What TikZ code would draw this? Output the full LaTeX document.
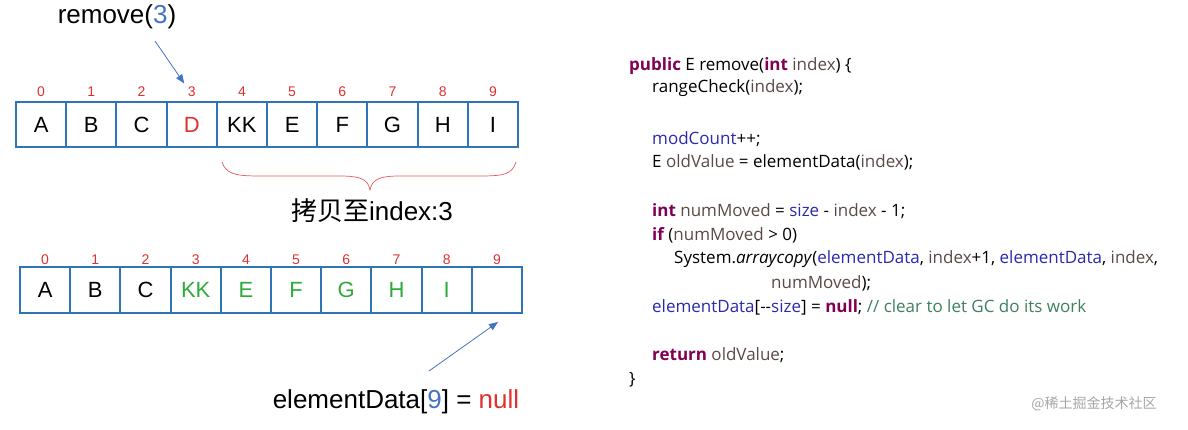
\documentclass[tikz,border=0pt]{standalone}
\usepackage{fontspec}
\setmainfont{Liberation Sans}
\newfontfamily\codef{Open Sans}
\newfontfamily\cjk{Noto Sans CJK SC}
\usetikzlibrary{arrows.meta}
\definecolor{cellb}{HTML}{2E75B6}
\definecolor{kw}{HTML}{7F0055}
\definecolor{fld}{HTML}{2A2AAA}
\definecolor{var}{HTML}{5A4A48}
\definecolor{cmt}{HTML}{3F7F5F}
\definecolor{idx}{HTML}{E03030}
\definecolor{grn}{HTML}{2EAA3A}
\definecolor{arr}{HTML}{4472C4}
\begin{document}
\begin{tikzpicture}[x=1pt,y=-1pt,
  cell/.style={draw=cellb,line width=2pt,minimum width=50.2pt,minimum height=45pt,inner sep=0pt,font=\fontsize{22}{22}\selectfont},
  ix/.style={text=idx,font=\fontsize{14}{14}\selectfont},
  code/.style={anchor=west,inner sep=0pt,font=\codef\fontsize{17}{17}\selectfont},
  big/.style={font=\fontsize{26}{26}\selectfont,inner sep=0pt}]
\useasboundingbox (0,0) rectangle (1188,430);
% top array
\foreach \t [count=\i from 0] in {A,B,C,{\textcolor{idx}{D}},KK,E,F,G,H,I}{
  \node[cell] (t\i) at (41.1+50.2*\i,124.5) {\t};
  \node[ix] (ti\i) at (41.1+50.2*\i,92) {\i};
}
% bottom array
\foreach \t [count=\i from 0] in {A,B,C,{\textcolor{grn}{KK}},{\textcolor{grn}{E}},{\textcolor{grn}{F}},{\textcolor{grn}{G}},{\textcolor{grn}{H}},{\textcolor{grn}{I}},{}}{
  \node[cell] (b\i) at (45.1+50.2*\i,290) {\t};
  \node[ix] (bi\i) at (45.1+50.2*\i,260) {\i};
}
\node[big] (rm) at (117,17) {remove(\textcolor{arr}{3})};
\coordinate (rs) at (155,41);
\draw[arr,line width=0.8pt,-{Triangle[length=9pt,width=7pt]}] (rs) -- (ti3.north west);
% brace
\draw[idx!80,line width=0.7pt] (222,162) .. controls (226,174) and (235,176) .. (260,176) -- (340,176) .. controls (362,176) and (368,180) .. (370,190)
  .. controls (372,180) and (378,176) .. (400,176) -- (480,176) .. controls (505,176) and (512,174) .. (516,162);
\node[big] (cp) at (372,211) {{\cjk 拷贝至}index:3};
\node[big] (nl) at (396,402) {elementData[\textcolor{arr}{9}] = \textcolor{idx}{null}};
\coordinate (ns) at (429,371);
\coordinate (ne) at (498,322);
\draw[arr,line width=0.8pt,-{Triangle[length=9pt,width=7pt]}] (ns) -- (ne);
% code
\node[code] (c1) at (629,66) {\textcolor{kw}{\bfseries public} E remove(\textcolor{kw}{\bfseries int} \textcolor{var}{index}) \{};
\node[code] (c2) at (652,88) {rangeCheck(\textcolor{var}{index});};
\node[code] (c3) at (652,139) {\textcolor{fld}{modCount}++;};
\node[code] (c4) at (652,162) {E \textcolor{var}{oldValue} = elementData(\textcolor{var}{index});};
\node[code] (c5) at (652,211) {\textcolor{kw}{\bfseries int} \textcolor{var}{numMoved} = \textcolor{fld}{size} - \textcolor{var}{index} - 1;};
\node[code] (c6) at (652,235) {\textcolor{kw}{\bfseries if} (\textcolor{var}{numMoved} > 0)};
\node[code] (c7) at (674,259) {System.\textit{arraycopy}(\textcolor{fld}{elementData}, \textcolor{var}{index}+1, \textcolor{fld}{elementData}, \textcolor{var}{index},};
\node[code] (c8) at (771,283) {\textcolor{var}{numMoved});};
\node[code] (c9) at (652,307) {\textcolor{fld}{elementData}[--\textcolor{fld}{size}] = \textcolor{kw}{\bfseries null}; \textcolor{cmt}{// clear to let GC do its work}};
\node[code] (c10) at (652,355) {\textcolor{kw}{\bfseries return} \textcolor{var}{oldValue};};
\node[code] (c11) at (629,380) {\}};
\node[anchor=center,text=black!35,font=\cjk\fontsize{14}{14}\selectfont] (wm) at (1094,404) {@稀土掘金技术社区};
\end{tikzpicture}
\end{document}
